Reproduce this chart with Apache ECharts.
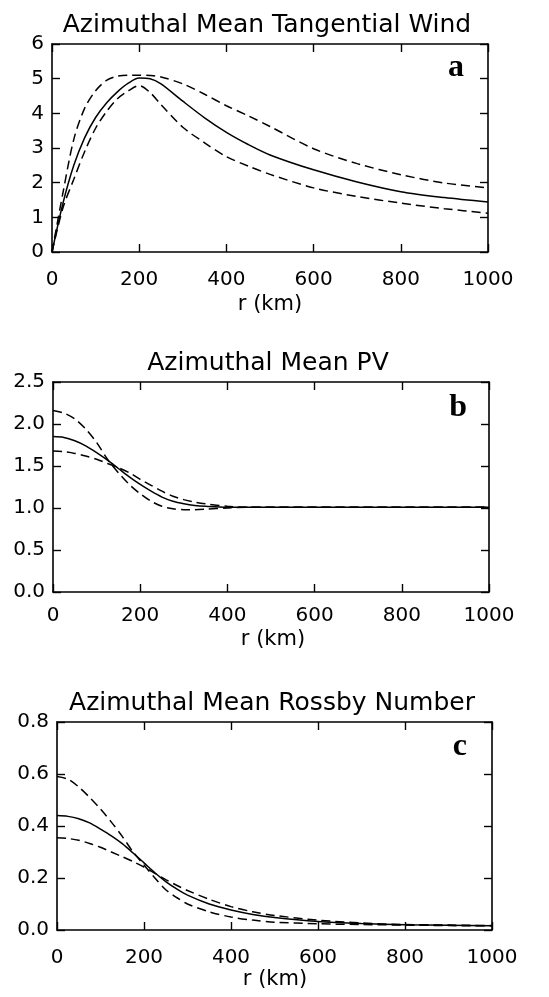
<!DOCTYPE html>
<html><head><meta charset="utf-8">
<script src="https://cdn.jsdelivr.net/npm/echarts@6/dist/echarts.min.js"></script>
<style>html,body{margin:0;padding:0;background:#fff}#c{width:549px;height:997px}</style>
</head><body><div id="c"></div>
<script>
// ---- data ----
const xTicks = [0, 200, 400, 600, 800, 1000];
const radiusA = [0, 25, 50, 75, 100, 125, 150, 175, 200, 225, 250, 300, 350, 400, 450, 500, 600, 700, 800, 900, 1000];
const windSolid  = [0, 1.4, 2.5, 3.3, 3.88, 4.3, 4.62, 4.87, 5.02, 5.0, 4.85, 4.35, 3.87, 3.45, 3.1, 2.8, 2.37, 2.02, 1.74, 1.57, 1.44];
const windDashHi = [0, 1.7, 3.25, 4.15, 4.65, 4.95, 5.07, 5.1, 5.1, 5.09, 5.05, 4.85, 4.55, 4.22, 3.93, 3.62, 2.98, 2.55, 2.23, 1.99, 1.85];
const windDashLo = [0, 1.27, 2.1, 2.9, 3.57, 4.05, 4.42, 4.65, 4.8, 4.6, 4.25, 3.6, 3.15, 2.75, 2.48, 2.24, 1.85, 1.6, 1.41, 1.25, 1.12];

const radiusB = [0, 25, 50, 75, 100, 125, 150, 175, 200, 225, 250, 275, 300, 325, 350, 400, 450, 500, 600, 700, 800, 900, 1000];
const pvSolid  = [1.85, 1.84, 1.80, 1.74, 1.66, 1.57, 1.47, 1.37, 1.28, 1.20, 1.13, 1.08, 1.05, 1.03, 1.02, 1.01, 1.01, 1.01, 1.01, 1.01, 1.01, 1.01, 1.01];
const pvDashHi = [2.16, 2.13, 2.06, 1.94, 1.78, 1.58, 1.42, 1.28, 1.17, 1.08, 1.02, 0.99, 0.98, 0.98, 0.985, 1.0, 1.01, 1.01, 1.01, 1.01, 1.01, 1.01, 1.01];
const pvDashLo = [1.68, 1.67, 1.65, 1.62, 1.58, 1.53, 1.48, 1.42, 1.34, 1.27, 1.20, 1.14, 1.10, 1.07, 1.05, 1.02, 1.01, 1.01, 1.01, 1.01, 1.01, 1.01, 1.01];

const radiusC = [0, 25, 50, 75, 100, 125, 150, 175, 200, 225, 250, 275, 300, 350, 400, 450, 500, 600, 700, 800, 900, 1000];
const roSolid  = [0.44, 0.437, 0.428, 0.412, 0.388, 0.362, 0.332, 0.296, 0.258, 0.22, 0.186, 0.158, 0.134, 0.1, 0.077, 0.06, 0.048, 0.033, 0.025, 0.02, 0.018, 0.016];
const roDashHi = [0.59, 0.58, 0.55, 0.51, 0.465, 0.415, 0.36, 0.30, 0.25, 0.20, 0.155, 0.125, 0.10, 0.07, 0.05, 0.038, 0.03, 0.024, 0.021, 0.019, 0.017, 0.016];
const roDashLo = [0.355, 0.352, 0.345, 0.333, 0.318, 0.30, 0.282, 0.263, 0.242, 0.218, 0.194, 0.172, 0.152, 0.118, 0.09, 0.07, 0.056, 0.038, 0.027, 0.021, 0.019, 0.017];

const titles = ['Azimuthal Mean Tangential Wind', 'Azimuthal Mean PV', 'Azimuthal Mean Rossby Number'];
const letters = ['a', 'b', 'c'];
const xName = 'r (km)';

// ---- layout ----
const grids = [
  {left: 52, top: 44, width: 436, height: 208},
  {left: 53, top: 382, width: 436, height: 210},
  {left: 57, top: 722, width: 435, height: 208}
];
const yCfg = [
  {min: 0, max: 6, interval: 1, dec: 0},
  {min: 0, max: 2.5, interval: 0.5, dec: 1},
  {min: 0, max: 0.8, interval: 0.2, dec: 1}
];
const xLabelMargin = [18, 14, 18];
const FONT = 'DejaVu Sans';

const xAxes = [], yAxes = [];
grids.forEach((g, i) => {
  const line = {show: true, onZero: false, lineStyle: {color: '#000', width: 1.6}};
  const tick = {show: true, inside: true, length: 8, lineStyle: {color: '#000', width: 1.4}};
  xAxes.push({type: 'value', gridIndex: i, position: 'bottom', min: 0, max: 1000, interval: 200,
    axisLine: line, axisTick: tick, splitLine: {show: false},
    axisLabel: {color: '#000', fontSize: 20, fontFamily: FONT, margin: xLabelMargin[i],
      formatter: v => String(v)}});
  xAxes.push({type: 'value', gridIndex: i, position: 'top', min: 0, max: 1000, interval: 200,
    axisLine: line, axisTick: tick, splitLine: {show: false}, axisLabel: {show: false}});
  const c = yCfg[i];
  yAxes.push({type: 'value', gridIndex: i, position: 'left', min: c.min, max: c.max, interval: c.interval,
    axisLine: line, axisTick: tick, splitLine: {show: false},
    axisLabel: {color: '#000', fontSize: 20, fontFamily: FONT, margin: 8,
      formatter: v => v.toFixed(c.dec)}});
  yAxes.push({type: 'value', gridIndex: i, position: 'right', min: c.min, max: c.max, interval: c.interval,
    axisLine: line, axisTick: tick, splitLine: {show: false}, axisLabel: {show: false}});
});

const zip = (xs, ys) => xs.map((x, k) => [x, ys[k]]);
const panels = [
  [radiusA, windSolid, windDashHi, windDashLo],
  [radiusB, pvSolid, pvDashHi, pvDashLo],
  [radiusC, roSolid, roDashHi, roDashLo]
];
const series = [];
panels.forEach((p, i) => {
  [p[1], p[2], p[3]].forEach((ys, k) => {
    series.push({type: 'line', xAxisIndex: 2 * i, yAxisIndex: 2 * i, data: zip(p[0], ys),
      symbol: 'none', smooth: 0.3, silent: true,
      lineStyle: {color: '#000', width: 1.5, type: k === 0 ? 'solid' : [9, 5]}});
  });
});

const titleY = [25, 363, 703];
const titleX = [267, 268, 272];
const xNameY = [305, 640, 980];
const xNameX = [270, 273, 275];
const letterY = [68, 408, 747];
const letterX = [464, 467, 467];
const graphic = [];
for (let i = 0; i < 3; i++) {
  graphic.push({type: 'text', x: titleX[i], y: titleY[i], style: {text: titles[i], fill: '#000',
    font: '25px "DejaVu Sans"', textAlign: 'center', textVerticalAlign: 'middle'}});
  graphic.push({type: 'text', x: xNameX[i], y: xNameY[i], style: {text: xName, fill: '#000',
    font: '21px "DejaVu Sans"', textAlign: 'center', textVerticalAlign: 'middle'}});
  graphic.push({type: 'text', x: letterX[i], y: letterY[i], style: {text: letters[i], fill: '#000',
    font: 'bold 32px "Liberation Serif"', textAlign: 'right', textVerticalAlign: 'middle'}});
}

const chart = echarts.init(document.getElementById('c'), null, {renderer: 'canvas'});
chart.setOption({
  backgroundColor: '#fff',
  animation: false,
  grid: grids,
  xAxis: xAxes,
  yAxis: yAxes,
  series: series,
  graphic: graphic
});
</script></body></html>
